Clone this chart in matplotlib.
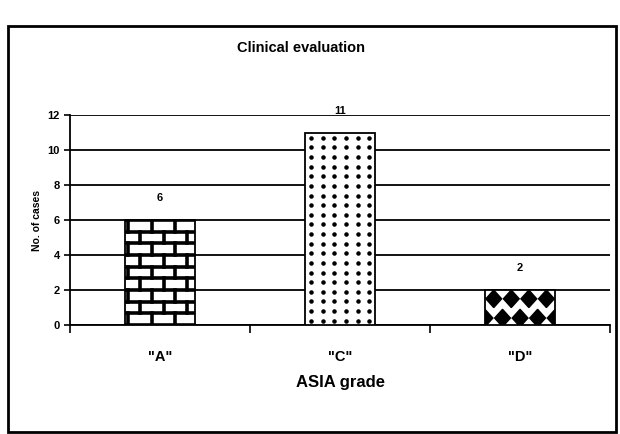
import matplotlib.pyplot as plt
from matplotlib.patches import Rectangle, Polygon
import numpy as np

# data
grades = ['"A"', '"C"', '"D"']
cases = [6, 11, 2]
y_ticks = [0, 2, 4, 6, 8, 10, 12]

plt.rcParams['font.family'] = ['Liberation Sans', 'DejaVu Sans']

fig = plt.figure(figsize=(6.2, 4.34), dpi=100)
ax = fig.add_axes([0.113, 0.251, 0.871, 0.484])

x = np.arange(len(grades))
bar_w = 0.39
bars = ax.bar(x, cases, width=bar_w, color='white', edgecolor='black', linewidth=1.3, zorder=3)

# fill patterns (brick, dots, diamonds) laid out from each bar's own extent
def brick(bar, rows=9, cols=3):
    x0, y0 = bar.get_x(), bar.get_y()
    w, h = bar.get_width(), bar.get_height()
    rh = h / rows
    bw = w / cols
    for r in range(rows + 1):
        yb = y0 + r * rh
        l, = ax.plot([x0, x0 + w], [yb, yb], color='black', lw=2.6, zorder=4)
        l.set_clip_path(bar)
        if r == rows:
            break
        off = 0.15 * bw if r % 2 == 0 else 0.65 * bw
        for c in range(-1, cols + 1):
            xv = x0 + off + c * bw
            if x0 < xv < x0 + w:
                l, = ax.plot([xv, xv], [yb, yb + rh], color='black', lw=2.6, zorder=4)
                l.set_clip_path(bar)

def dots(bar, cols=6, step=0.55):
    x0, y0 = bar.get_x(), bar.get_y()
    w, h = bar.get_width(), bar.get_height()
    xs = x0 + (np.arange(cols) + 0.5) * w / cols
    ys = np.arange(y0 + h - 0.3, y0, -step)
    gx, gy = np.meshgrid(xs, ys)
    sc = ax.scatter(gx.ravel(), gy.ravel(), s=5, color='black', zorder=4)
    sc.set_clip_path(bar)

def diamonds(bar, cols=4):
    x0, y0 = bar.get_x(), bar.get_y()
    w, h = bar.get_width(), bar.get_height()
    dx = w / cols
    hw, hh = dx * 0.45, 0.5
    rows = [(y0 + h - 0.5, 0.5), (y0 + 0.4, 0.0)]
    for yc, shift in rows:
        for c in range(-1, cols + 1):
            xc = x0 + (c + shift) * dx
            p = Polygon([(xc - hw, yc), (xc, yc + hh), (xc + hw, yc), (xc, yc - hh)],
                        closed=True, color='black', zorder=4)
            ax.add_patch(p)
            p.set_clip_path(bar)

brick(bars[0])
dots(bars[1])
diamonds(bars[2])

for b, v in zip(bars, cases):
    ax.annotate(str(v), (b.get_x() + b.get_width() / 2, v), xytext=(0, 12),
                textcoords='offset points', ha='center', va='bottom',
                fontsize=8, fontweight='bold')

ax.set_ylim(0, 12)
ax.set_xlim(-0.5, 2.5)
ax.set_yticks(y_ticks)
ax.yaxis.grid(True, color='black', lw=1.3, zorder=0)
ax.set_axisbelow(True)

ax.set_xticks(x)
ax.set_xticklabels(grades, fontsize=10.5, fontweight='bold')
ax.tick_params(axis='x', which='major', length=0, pad=18)
ax.set_xticks([-0.5, 0.5, 1.5, 2.5], minor=True)
ax.tick_params(axis='x', which='minor', length=6, width=1.2, direction='out')
ax.tick_params(axis='y', labelsize=8, length=4, width=1.2)
for t in ax.get_yticklabels():
    t.set_fontweight('bold')

for s in ['top', 'right']:
    ax.spines[s].set_visible(False)
for s in ['left', 'bottom']:
    ax.spines[s].set_linewidth(1.3)

ax.set_ylabel('No. of cases', fontsize=7.5, fontweight='bold', labelpad=4)
ax.set_xlabel('ASIA grade', fontsize=12, fontweight='bold', labelpad=8)
fig.text(0.485, 0.89, 'Clinical evaluation', ha='center', va='center',
         fontsize=10.5, fontweight='bold')

# outer frame of the figure
fig.patches.append(Rectangle((0.013, 0.005), 0.98, 0.935, transform=fig.transFigure,
                             fill=False, edgecolor='black', lw=2.0))

fig.savefig('out.png', dpi=100)
